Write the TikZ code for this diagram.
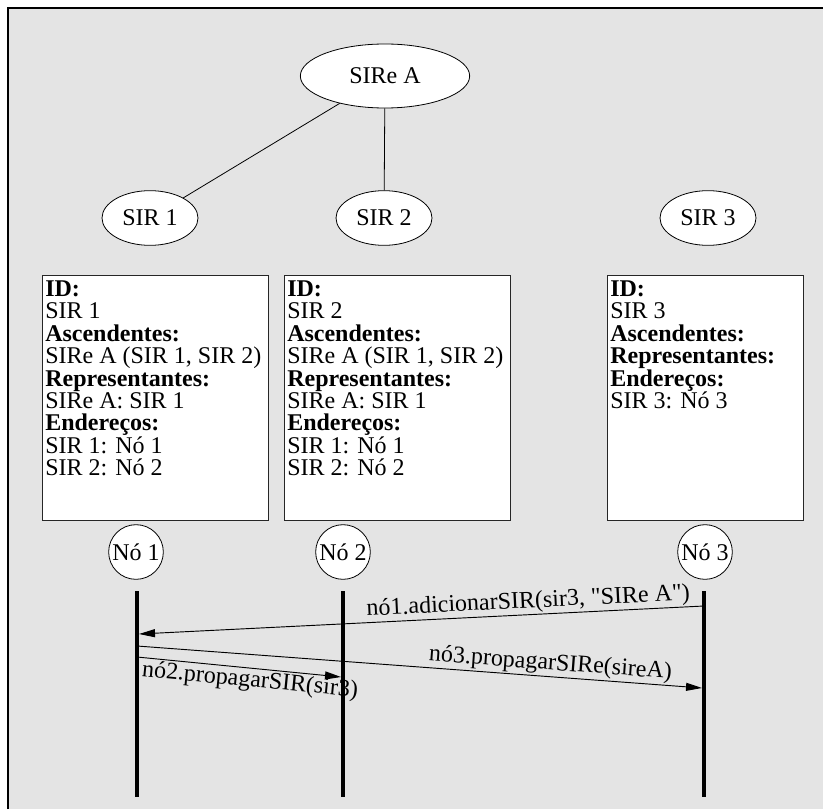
\documentclass[tikz,border=0pt]{standalone}
\usepackage{fontspec}
\setmainfont{Liberation Serif}[Ligatures=TeXOff]
\usetikzlibrary{arrows.meta,shapes.geometric}
\definecolor{panelgray}{RGB}{228,228,228}
\newcommand\diagfont{\fontsize{18pt}{16.8pt}\selectfont}
\begin{document}
\lineskiplimit=-30pt\relax
\begin{tikzpicture}[x=0.75pt,y=-0.75pt,
  every node/.style={font=\diagfont},
  sirnode/.style={ellipse,draw,fill=white,line width=0.6pt,inner sep=0pt,
    minimum width=72pt,minimum height=41pt},
  nodecircle/.style={circle,draw,fill=white,line width=0.6pt,inner sep=0pt,
    minimum size=41pt},
  infobox/.style={rectangle,draw=black!85,fill=white,line width=0.9pt,
    inner sep=0pt,anchor=north west,minimum height=183.75pt},
  boxtext/.style={anchor=north west,align=left,inner sep=0pt},
  tree/.style={line width=0.6pt},
  lifeline/.style={line width=3pt},
  msg/.style={line width=0.7pt,-{Triangle[length=12pt,width=6pt]}},
  msglabel/.style={sloped,inner sep=1pt}]

% panel and its frame
\useasboundingbox (0,0) rectangle (823,809);
\fill[panelgray] (8,8) rectangle (823,809);
\draw[line width=1.1pt] (8,809) -- (8,8) -- (823,8);

% hierarchy of SIRs
\node[sirnode,minimum width=127pt,minimum height=48pt] (sirea) at (385,76) {SIRe A};
\node[sirnode] (sir1) at (150,218) {SIR 1};
\node[sirnode] (sir2) at (384,218) {SIR 2};
\node[sirnode] (sir3) at (708,218) {SIR 3};
\draw[tree] (sirea) -- (sir1);
\draw[tree] (sirea) -- (sir2);

% tables held by each SIR
\node[infobox,minimum width=169.5pt] (box1) at (42,275) {};
\node[boxtext] (txt1) at (45,280.5) {\textbf{ID:}\\SIR 1\\\textbf{Ascendentes:}\\SIRe A (SIR 1, SIR 2)\\\textbf{Representantes:}\\SIRe A: SIR 1\\\textbf{Endereços:}\\SIR 1: Nó 1\\SIR 2: Nó 2};

\node[infobox,minimum width=169.5pt] (box2) at (284,275) {};
\node[boxtext] (txt2) at (287,280.5) {\textbf{ID:}\\SIR 2\\\textbf{Ascendentes:}\\SIRe A (SIR 1, SIR 2)\\\textbf{Representantes:}\\SIRe A: SIR 1\\\textbf{Endereços:}\\SIR 1: Nó 1\\SIR 2: Nó 2};

\node[infobox,minimum width=147pt] (box3) at (607,275) {};
\node[boxtext] (txt3) at (610,280.5) {\textbf{ID:}\\SIR 3\\\textbf{Ascendentes:}\\\textbf{Representantes:}\\\textbf{Endereços:}\\SIR 3: Nó 3};

% network nodes
\node[nodecircle] (no1) at (136,552) {Nó 1};
\node[nodecircle] (no2) at (343,552) {Nó 2};
\node[nodecircle] (no3) at (705,552) {Nó 3};

% lifeline ends
\coordinate (l1top) at (137,591); \coordinate (l1bot) at (137,797);
\coordinate (l2top) at (343,591); \coordinate (l2bot) at (343,797);
\coordinate (l3top) at (704,591); \coordinate (l3bot) at (704,797);

% message ends
\coordinate (m1from) at (704,606); \coordinate (m1to) at (139,634);
\coordinate (m2from) at (137,646); \coordinate (m2to) at (702,688);
\coordinate (m3from) at (137,657); \coordinate (m3to) at (341,677);

% messages
\draw[msg] (m1from) -- node[msglabel,above,pos=0.31] {nó1.adicionarSIR(sir3, "SIRe A")} (m1to);
\draw[msg] (m2from) -- node[msglabel,above,pos=0.73] {nó3.propagarSIRe(sireA)} (m2to);
\draw[msg] (m3from) -- node[msglabel,below,pos=0.56] {nó2.propagarSIR(sir3)} (m3to);

% lifelines
\draw[lifeline] (l1top) -- (l1bot);
\draw[lifeline] (l2top) -- (l2bot);
\draw[lifeline] (l3top) -- (l3bot);
\end{tikzpicture}
\end{document}
